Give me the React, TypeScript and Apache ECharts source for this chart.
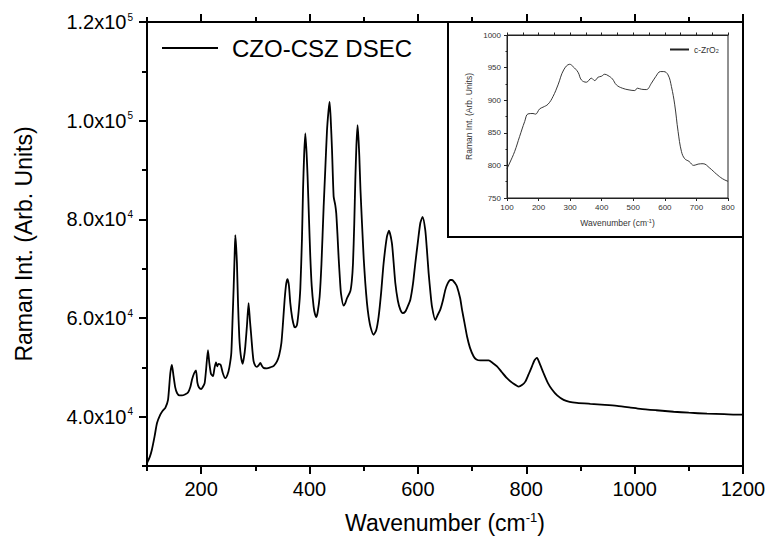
import { useEffect, useRef } from "react";
import * as echarts from "echarts";

// main spectrum
const mainWavenumber = [
  100, 105, 109, 114, 118.5, 124.5, 129, 133.8, 138.8, 143, 146, 149, 152, 155.4, 160, 164.6, 170, 175.7,
  180, 183, 187, 190.4, 193, 196, 200.2, 203, 206.4, 209, 212.5, 215, 218, 221.8, 224.5, 227.3, 229.5, 232,
  236, 240, 244.5, 248.5, 252, 255.6, 258, 260, 261.8, 263, 264.5, 266, 268, 270.3, 273, 276.5, 279, 281.4,
  284.5, 287.5, 290, 292, 294.5, 296.8, 300, 302.9, 306, 309.1, 312, 315, 321, 327.6, 334, 339.9, 344, 348,
  351, 354, 357, 359.5, 362, 364.5, 368, 371.9, 374, 376.8, 380, 383, 386, 388, 390, 392.2, 394.5, 396.4,
  399, 401.4, 404, 407.5, 410, 412.5, 415, 418.6, 422, 426, 429, 432.2, 435, 437, 439, 441.5, 444.5, 447.5,
  449.3, 451.5, 453.6, 456, 458, 462.9, 466, 469.1, 475.2, 478, 480.2, 482.5, 484.5, 486.5, 488.7, 490.5,
  491.9, 494, 496.8, 500, 502.9, 506, 509, 513, 518.2, 523, 527.5, 532, 536.7, 542.8, 546.6, 552, 555,
  558.3, 563, 567.5, 572, 576.7, 581, 586, 591, 595.2, 600, 604.4, 608.7, 613.6, 616.5, 619.8, 623, 626,
  632.1, 636, 641.3, 646, 650.6, 655, 659.8, 663, 669, 672.1, 678, 681.4, 686, 690.6, 696, 702.9, 708,
  715.2, 722, 730.6, 738, 746, 755, 764.4, 775, 785.9, 792, 798.2, 804, 810.5, 815, 819.8, 825, 832, 840,
  847.5, 857, 868.9, 880, 893.6, 918.2, 945, 967.5, 990, 1010.5, 1040, 1072, 1100, 1133.6, 1165, 1198, 1200,
];
const mainIntensity = [
  30600, 31800, 33300, 36000, 38700, 40400, 41200, 41800, 43400, 48800, 50500, 48200, 46000, 44800, 44300,
  44300, 44500, 44900, 46000, 47500, 48800, 49400, 46900, 45900, 45600, 46000, 46800, 49500, 53500, 50900,
  48700, 48200, 49800, 51000, 50200, 50700, 50500, 48800, 47800, 48500, 50000, 52900, 60000, 66400, 73000,
  76800, 74500, 71100, 63000, 56200, 52500, 50700, 52000, 54200, 58500, 63000, 59500, 56900, 53500, 51200,
  50300, 50100, 50400, 50900, 50300, 49900, 49800, 50000, 50300, 51200, 52500, 54900, 59000, 63700, 67000,
  67900, 66500, 63000, 60000, 58200, 58100, 58600, 61500, 66000, 76000, 86000, 93000, 97400, 93500, 88600,
  80000, 72400, 66500, 62300, 60800, 60200, 61200, 64300, 71000, 82500, 90000, 98000, 102000, 103800,
  100500, 94000, 84600, 82900, 81200, 77000, 72400, 68000, 65000, 62500, 63000, 64000, 65400, 67500, 71100,
  79000, 88000, 95000, 99100, 96000, 92700, 86000, 79200, 72000, 67100, 63000, 60300, 58000, 56600, 57500,
  60300, 65000, 71100, 76500, 77700, 75200, 71500, 67100, 63500, 61700, 61000, 61300, 62300, 63700, 67000,
  71100, 75500, 79200, 80500, 77800, 74000, 69100, 65300, 62300, 59600, 60500, 61700, 63500, 65700, 67000,
  67700, 67700, 67000, 66400, 64000, 61700, 59000, 56300, 54000, 52200, 51600, 51400, 51400, 51400, 50900,
  50200, 49000, 47800, 46800, 46100, 46400, 47100, 48500, 50200, 51400, 51900, 50700, 48800, 46800, 45500,
  44300, 43400, 43000, 42800, 42600, 42400, 42200, 41900, 41600, 41300, 41000, 40800, 40600, 40500, 40400,
  40400,
];

// inset spectrum c-ZrO2
const insetWavenumber = [
  100, 108.4, 124.3, 140, 156, 166.5, 182.4, 190, 203.5, 214, 230, 245.7, 261.6, 279.5, 298.6, 309.2, 325,
  335.6, 351.4, 367.3, 377.8, 388.4, 399, 409.5, 420, 433.8, 446.5, 465.5, 486.6, 504.6, 513, 525.7, 541.5,
  557.4, 571.1, 585.9, 596.5, 610.2, 620.8, 631.3, 641.9, 652.5, 663, 676.8, 691.6, 705.3, 721.1, 742.2,
  763.4, 782.4, 800,
];
const insetIntensity = [
  794.9, 803.6, 821.4, 844.4, 867.3, 879, 879.6, 878.6, 886.7, 889.3, 893.9, 905.6, 923.5, 946.4, 955.1,
  951.5, 942.9, 931.1, 927.6, 933.7, 930.1, 935.2, 936.7, 939.8, 937.8, 932.7, 923.5, 918.4, 915.8, 914.8,
  918.4, 916.8, 916.3, 926, 936.2, 943.9, 943.9, 938.8, 920.9, 892.9, 852, 821.4, 810.2, 806.1, 800, 802,
  802.6, 795.9, 786.7, 779.6, 775.5,
];

const mainXTicks = [200, 400, 600, 800, 1000, 1200];
const mainXMinorTicks = [100, 300, 500, 700, 900, 1100];
const mainYTicks = [40000, 60000, 80000, 100000, 120000];
const mainYMinorTicks = [30000, 50000, 70000, 90000, 110000];

const FONT = "'Liberation Sans', Arial, sans-serif";

const sciLabel = (v: number) => {
  const exp = Math.floor(Math.log10(v) + 1e-9);
  const mant = (v / Math.pow(10, exp)).toFixed(1);
  return `{m|${mant}x10}{e|${exp}}`;
};
const plain = (v: number) => String(v);

const App = () => {
  const chartRef = useRef<HTMLDivElement>(null);

  useEffect(() => {
    if (!chartRef.current) return;
    const chart = echarts.init(chartRef.current, null, { renderer: "svg" });

    const mainGrid = { left: 147, top: 22, width: 596, height: 444 };
    const minorAxis = {
      type: "value" as const,
      gridIndex: 1,
      axisLine: { show: false },
      axisLabel: { show: false },
      splitLine: { show: false },
    };

    chart.setOption({
      animation: false,
      textStyle: { fontFamily: FONT },
      grid: [
        { ...mainGrid, show: true, borderColor: "#000", borderWidth: 2 },
        { ...mainGrid, show: false },
        { left: 507, top: 35, width: 221, height: 163, show: true, borderColor: "#222", borderWidth: 1 },
      ],
      legend: [
        {
          data: ["CZO-CSZ DSEC"],
          left: 161,
          top: 34,
          padding: 0,
          itemWidth: 56,
          itemHeight: 4,
          selectedMode: false,
          itemStyle: { opacity: 0 },
          textStyle: { fontSize: 24, color: "#000", lineHeight: 28, padding: [0, 0, 0, 9] },
        },
        {
          data: ["c-ZrO2"],
          left: 669,
          top: 45,
          padding: 0,
          itemWidth: 19,
          itemHeight: 3,
          selectedMode: false,
          itemStyle: { opacity: 0 },
          formatter: () => "{a|c-ZrO}{s|2}",
          textStyle: {
            color: "#333",
            rich: {
              a: { fontSize: 8.5, color: "#333" },
              s: { fontSize: 5.5, color: "#333", verticalAlign: "bottom" },
            },
          },
        },
      ],
      xAxis: [
        {
          type: "value",
          gridIndex: 0,
          position: "bottom",
          min: 100,
          max: 1200,
          name: "{a|Wavenumber (cm}{s|-1}{a|)}",
          nameLocation: "middle",
          nameGap: 45,
          nameTextStyle: {
            rich: {
              a: { fontSize: 23, color: "#000" },
              s: { fontSize: 13, color: "#000", verticalAlign: "top" },
            },
          },
          axisLine: { lineStyle: { color: "#000", width: 2 } },
          axisTick: { length: 8, lineStyle: { color: "#000", width: 2 }, customValues: mainXTicks },
          axisLabel: { customValues: mainXTicks, formatter: plain, fontSize: 20, color: "#000", margin: 13 },
          splitLine: { show: false },
        },
        {
          type: "value",
          gridIndex: 0,
          position: "top",
          min: 100,
          max: 1200,
          axisLine: { lineStyle: { color: "#000", width: 2 } },
          axisTick: { length: 8, lineStyle: { color: "#000", width: 2 }, customValues: mainXTicks },
          axisLabel: { show: false },
          splitLine: { show: false },
        },
        {
          ...minorAxis,
          position: "bottom",
          min: 100,
          max: 1200,
          axisTick: { length: 5, lineStyle: { color: "#000", width: 2 }, customValues: mainXMinorTicks },
        },
        {
          ...minorAxis,
          position: "top",
          min: 100,
          max: 1200,
          axisTick: { length: 5, lineStyle: { color: "#000", width: 2 }, customValues: mainXMinorTicks },
        },
        {
          type: "value",
          gridIndex: 2,
          position: "bottom",
          min: 100,
          max: 800,
          interval: 100,
          name: "{a|Wavenumber (cm}{s|-1}{a|)}",
          nameLocation: "middle",
          nameGap: 20,
          nameTextStyle: {
            rich: {
              a: { fontSize: 8.5, color: "#333" },
              s: { fontSize: 5.5, color: "#333", verticalAlign: "top" },
            },
          },
          axisLine: { lineStyle: { color: "#222", width: 1 } },
          axisTick: { length: 3, lineStyle: { color: "#222", width: 1 } },
          axisLabel: { fontSize: 8, color: "#333", margin: 5, formatter: plain },
          splitLine: { show: false },
        },
        {
          type: "value",
          gridIndex: 2,
          position: "top",
          min: 100,
          max: 800,
          interval: 50,
          axisLine: { lineStyle: { color: "#222", width: 1 } },
          axisTick: { length: 2.5, lineStyle: { color: "#222", width: 1 } },
          axisLabel: { show: false },
          splitLine: { show: false },
        },
      ],
      yAxis: [
        {
          type: "value",
          gridIndex: 0,
          position: "left",
          min: 30000,
          max: 120000,
          name: "Raman Int. (Arb. Units)",
          nameLocation: "middle",
          nameRotate: 90,
          nameGap: 112,
          nameTextStyle: { fontSize: 23, color: "#000" },
          axisLine: { lineStyle: { color: "#000", width: 2 } },
          axisTick: { length: 8, lineStyle: { color: "#000", width: 2 }, customValues: mainYTicks },
          axisLabel: {
            customValues: mainYTicks,
            margin: 14,
            formatter: sciLabel,
            rich: {
              m: { fontSize: 20, color: "#000" },
              e: { fontSize: 10, color: "#000", verticalAlign: "top", padding: [0, 0, 0, 1] },
            },
          },
          splitLine: { show: false },
        },
        {
          ...minorAxis,
          position: "left",
          min: 30000,
          max: 120000,
          axisTick: { length: 5, lineStyle: { color: "#000", width: 2 }, customValues: mainYMinorTicks },
        },
        {
          type: "value",
          gridIndex: 2,
          position: "left",
          min: 750,
          max: 1000,
          interval: 50,
          name: "Raman Int. (Arb. Units)",
          nameLocation: "middle",
          nameRotate: 90,
          nameGap: 34,
          nameTextStyle: { fontSize: 8.5, color: "#333" },
          axisLine: { lineStyle: { color: "#222", width: 1 } },
          axisTick: { length: 3, lineStyle: { color: "#222", width: 1 } },
          minorTick: { show: true, splitNumber: 2, length: 1.5, lineStyle: { color: "#222", width: 1 } },
          axisLabel: { fontSize: 8, color: "#333", margin: 6, formatter: plain },
          splitLine: { show: false },
        },
      ],
      graphic: [
        {
          type: "rect",
          silent: true,
          shape: { x: 448, y: 22, width: 295, height: 215 },
          style: { fill: "transparent", stroke: "#000", lineWidth: 2 },
        },
      ],
      series: [
        {
          name: "CZO-CSZ DSEC",
          type: "line",
          xAxisIndex: 0,
          yAxisIndex: 0,
          data: mainWavenumber.map((w, i) => [w, mainIntensity[i]]),
          symbol: "none",
          smooth: 0.2,
          lineStyle: { color: "#000", width: 1.8 },
          itemStyle: { color: "#000" },
        },
        {
          name: "c-ZrO2",
          type: "line",
          xAxisIndex: 4,
          yAxisIndex: 2,
          data: insetWavenumber.map((w, i) => [w, insetIntensity[i]]),
          symbol: "none",
          smooth: 0.4,
          lineStyle: { color: "#222", width: 0.9 },
          itemStyle: { color: "#222" },
        },
      ],
    });

    return () => {
      chart.dispose();
    };
  }, []);

  return (
    <div
      ref={chartRef}
      style={{ position: "absolute", left: 0, top: 0, width: "775px", height: "552px", background: "#fff" }}
    ></div>
  );
};

export default App;
